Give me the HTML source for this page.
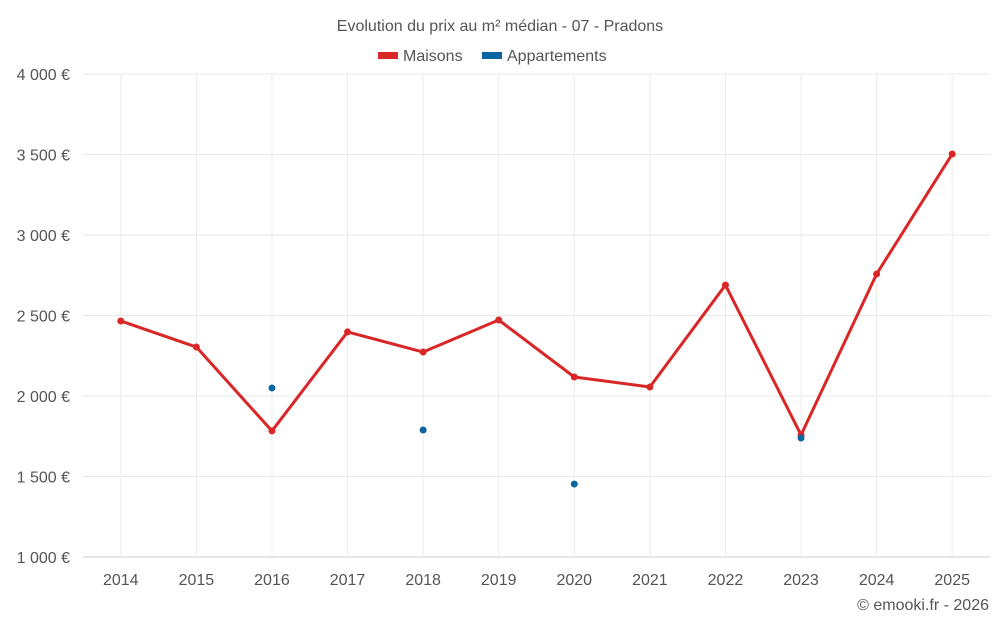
<!DOCTYPE html>
<html><head><meta charset="utf-8">
<style>
html,body{margin:0;padding:0;background:#fff;}
svg{display:block;font-family:"Liberation Sans",Roboto,sans-serif;}
</style></head>
<body>
<svg id="chart" width="1000" height="625" viewBox="0 0 1000 625">
<text x="500" y="31" text-anchor="middle" font-size="16" fill="#555">Evolution du prix au m² médian - 07 - Pradons</text>
<g>
<g><rect x="378" y="52" width="20" height="7" fill="#d92727"/><text x="403" y="61" font-size="16" fill="#555">Maisons</text></g>
<g><rect x="482" y="52" width="20" height="7" fill="#0a64a0"/><text x="507" y="61" font-size="16" fill="#555">Appartements</text></g>
</g>
<g id="grid"></g><g id="axes"></g><g id="series"></g>
<text x="989" y="610" text-anchor="end" font-size="16" fill="#555">© emooki.fr - 2026</text>
</svg>
<script>
const categories=["2014","2015","2016","2017","2018","2019","2020","2021","2022","2023","2024","2025"];
const maisons=[2466,2304,1783,2398,2273,2472,2118,2056,2689,1758,2758,3503];
const appartements=[null,null,2050,null,1789,null,1453,null,null,1739,null,null];
const yTicks=[1000,1500,2000,2500,3000,3500,4000];
const yTickLabels=["1 000 €","1 500 €","2 000 €","2 500 €","3 000 €","3 500 €","4 000 €"];
const L=83,R=990,T=74,B=557,yMin=1000,yMax=4000;
const NS="http://www.w3.org/2000/svg";
function x(i){return L+(R-L)/categories.length*(i+0.5);}
function y(v){return B-(v-yMin)/(yMax-yMin)*(B-T);}
function mk(tag,attrs,parent){const e=document.createElementNS(NS,tag);for(const k in attrs)e.setAttribute(k,attrs[k]);document.getElementById(parent).appendChild(e);return e;}
yTicks.forEach((v,i)=>{
 const g=mk("line",{x1:L,x2:R,y1:y(v),y2:y(v),stroke:i===0?"#ccc":"#e8e8e8","stroke-width":1},"grid");
 
 
 const t=mk("text",{x:70,y:y(v)+6,"text-anchor":"end","font-size":16,fill:"#555"},"axes");
 t.textContent=yTickLabels[i];
 
 
});
categories.forEach((c,i)=>{
 const g=mk("line",{x1:x(i),x2:x(i),y1:T,y2:B,stroke:"#ececec","stroke-width":1},"grid");
 
 
 const t=mk("text",{x:x(i),y:585,"text-anchor":"middle","font-size":16,fill:"#555"},"axes");
 t.textContent=c;
 
 
});
const d=maisons.map((v,i)=>(i?"L":"M")+x(i)+","+y(v)).join(" ");
const p=mk("path",{d:d,fill:"none",stroke:"#d92727","stroke-width":3,"stroke-linejoin":"round"},"series");


maisons.forEach((v,i)=>{
 const c=mk("circle",{cx:x(i),cy:y(v),r:3.5,fill:"#d92727"},"series");
 
 
});
appartements.forEach((v,i)=>{
 if(v===null)return;
 const c=mk("circle",{cx:x(i),cy:y(v),r:3.5,fill:"#0a64a0"},"series");
 
 
});
</script>
</body></html>
